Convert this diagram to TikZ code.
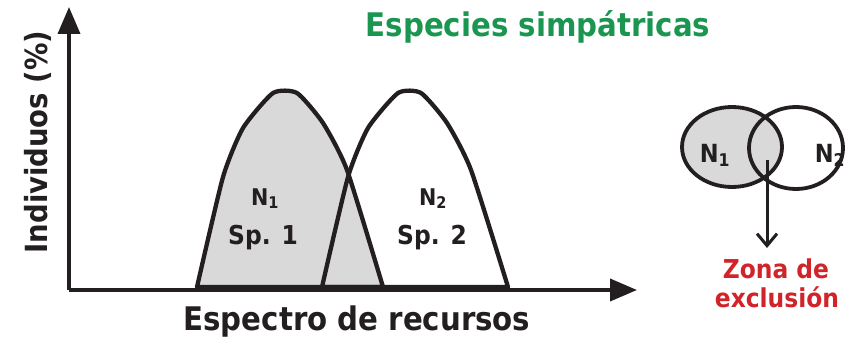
\documentclass[tikz,border=0pt]{standalone}
\usepackage{fontspec}
\setmainfont{DejaVu Sans Condensed}
\usetikzlibrary{arrows.meta}
\definecolor{titlegreen}{HTML}{1B9650}
\definecolor{zonered}{HTML}{D1232A}
\definecolor{nichegray}{HTML}{D9D9D9}
\definecolor{ink}{HTML}{231F20}
\tikzset{
  axisline/.style={draw=ink, line width=3.8pt, -{Triangle[length=27pt,width=22pt]}},
  curveline/.style={draw=ink, line width=4.3pt, line join=round},
  lbl/.style={anchor=base, inner sep=0pt, text=ink},
}
\newcommand\fsz[1]{\fontsize{#1}{#1}\selectfont\bfseries}
\begin{document}
\begin{tikzpicture}[x=1pt,y=-1pt]
\useasboundingbox (0,0) rectangle (858,339);
% niche curves
\filldraw[curveline, fill=nichegray] plot[smooth, tension=0.35] coordinates {(197,287) (223,177) (243,128) (273,93) (297,93) (323,123) (347,170) (383,287)} -- cycle;
\draw[curveline] plot[smooth, tension=0.35] coordinates {(322,287) (348,177) (368,128) (398,93) (421,93) (447,123) (471,170) (508,287)} -- cycle;
% axes
\coordinate (O) at (69,290);
\coordinate (ytip) at (69,7);
\coordinate (xtip) at (637,290);
\draw[axisline] (O) -- (ytip);
\draw[axisline] (O) -- (xtip);
% labels
\node[lbl, font=\fsz{32.5}] (xlab) at (357,330) {Espectro de recursos};
\node[lbl, font=\fsz{30.5}, rotate=90] (ylab) at (47,142) {Individuos (\%)};
\node[lbl, font=\fsz{32.5}, text=titlegreen] (title) at (538,37) {Especies simpátricas};
\node[lbl, font=\fsz{23}] (n1) at (265,205) {N\textsubscript{1}};
\node[lbl, font=\fsz{26}] (sp1) at (263,244) {Sp. 1};
\node[lbl, font=\fsz{23}] (n2) at (433,205) {N\textsubscript{2}};
\node[lbl, font=\fsz{26}] (sp2) at (432,244) {Sp. 2};
% Venn
\fill[nichegray] (732,147) ellipse [x radius=50, y radius=40];
\draw[ink, line width=3.8pt] (732,147) ellipse [x radius=50, y radius=40];
\draw[ink, line width=3.8pt] (796,148) ellipse [x radius=47, y radius=41];
\node[lbl, font=\fsz{25}] (vn1) at (715,162) {N\textsubscript{1}};
\node[lbl, font=\fsz{25}] (vn2) at (830,162) {N\textsubscript{2}};
\coordinate (zstart) at (767,160);
\node[lbl, font=\fsz{26}, text=zonered] (zona) at (776,278) {Zona de};
\node[lbl, font=\fsz{26}, text=zonered] (excl) at (777,307) {exclusión};
\coordinate (zend) at (767,248);
\draw[ink, line width=3pt, -{Straight Barb[length=12pt,width=20pt,line width=3pt]}] (zstart) -- (zend);
\end{tikzpicture}
\end{document}
